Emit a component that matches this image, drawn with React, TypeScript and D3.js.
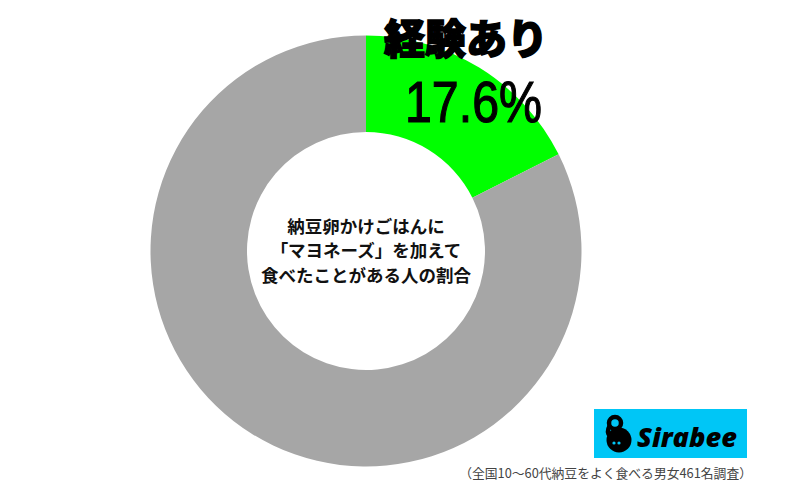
import React from "react";
import * as d3 from "d3";

const categories = ["経験あり", "経験なし"];
const values = [17.6, 82.4];
const centerLines = ["納豆卵かけごはんに", "「マヨネーズ」を加えて", "食べたことがある人の割合"];
const highlightLabel = "経験あり";
const highlightValue = "17.6%";
const footnote = "（全国10〜60代納豆をよく食べる男女461名調査）";
const brand = "Sirabee";

const W = 800;
const H = 502;
const cx = 366;
const cy = 251;
const outerR = 215.5;
const innerR = 119;
const sliceColors = ["#00ff00", "#a6a6a6"];

export default function App() {
  const data = categories.map((c, i) => ({ c, v: values[i] }));
  const pie = d3.pie<{ c: string; v: number }>().value((d) => d.v).sort(null);
  const arcs = pie(data);
  const arc = d3.arc<d3.PieArcDatum<{ c: string; v: number }>>().innerRadius(innerR).outerRadius(outerR);
  const jp = "'Noto Sans CJK JP', 'Noto Sans', sans-serif";

  return (
    <svg width={W} height={H} style={{ position: "absolute", left: 0, top: 0, background: "#fff" }}>
      <rect x={0} y={0} width={W} height={H} fill="#fff" />
      <g transform={`translate(${cx},${cy})`}>
        {arcs.map((a, i) => (
          <path key={i} d={arc(a) || ""} fill={sliceColors[i]} />
        ))}
      </g>
      {centerLines.map((t, i) => (
        <text
          key={i}
          x={cx}
          y={225 + i * 24.5}
          textAnchor="middle"
          dominantBaseline="central"
          fontFamily={jp}
          fontWeight={700}
          fontSize={17.5}
          fill="#111"
        >
          {t}
        </text>
      ))}
      <text
        x={466}
        y={36}
        textAnchor="middle"
        dominantBaseline="central"
        fontFamily={jp}
        fontWeight={900}
        fontSize={41}
        fill="#000"
        stroke="#000"
        strokeWidth={1.5}
      >
        {highlightLabel}
      </text>
      <text
        x={405}
        y={122}
        fontFamily="'Liberation Sans', Arial, sans-serif"
        fontSize={58}
        fill="#000"
        stroke="#000"
        strokeWidth={1.2}
        textLength={137}
        lengthAdjust="spacingAndGlyphs"
      >
        {highlightValue}
      </text>
      <rect x={594} y={409} width={153} height={49} fill="#00c6f6" />
      <g>
        <circle cx={619} cy={440} r={12.5} fill="#000" />
        <circle cx={615} cy={423} r={6} fill="none" stroke="#000" strokeWidth={4.5} />
        <path d="M610,425 Q606,432 610,436" fill="none" stroke="#000" strokeWidth={4.5} />
        <circle cx={614} cy={443} r={1.6} fill="#00c6f6" />
        <circle cx={619} cy={443} r={1.6} fill="#00c6f6" />
      </g>
      <text
        x={637}
        y={447}
        fontFamily="'Open Sans', 'Liberation Sans', sans-serif"
        fontWeight={800}
        fontStyle="italic"
        fontSize={27}
        fill="#000"
        textLength={100}
        lengthAdjust="spacingAndGlyphs"
      >
        {brand}
      </text>
      <text
        x={752}
        y={478}
        textAnchor="end"
        fontFamily={jp}
        fontSize={12.8}
        fill="#444"
      >
        {footnote}
      </text>
    </svg>
  );
}
